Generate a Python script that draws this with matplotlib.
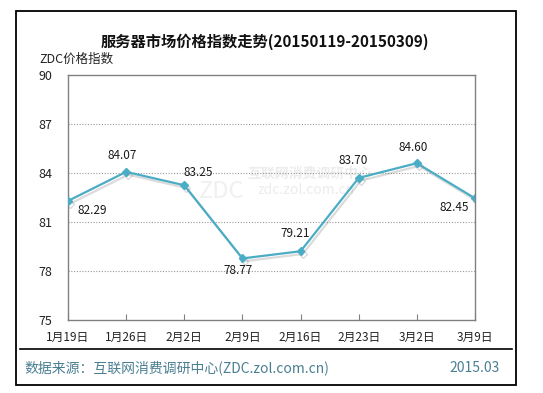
import matplotlib
matplotlib.use("Agg")
import matplotlib.pyplot as plt
import matplotlib.patheffects as pe
from matplotlib.patches import Rectangle
from matplotlib.lines import Line2D

plt.rcParams['font.family'] = ['Noto Sans CJK SC', 'DejaVu Sans']

# data
dates = ["1月19日", "1月26日", "2月2日", "2月9日", "2月16日", "2月23日", "3月2日", "3月9日"]
index = [82.29, 84.07, 83.25, 78.77, 79.21, 83.70, 84.60, 82.45]
yticks = [75, 78, 81, 84, 87, 90]
# label offsets in pixels (dx, dy)
offs = [(24, -10), (-4, 16), (14, 13), (-4, -12), (-5, 18), (-6, 17), (-4, 16), (-21, -9)]

W, H = 543, 393
fig = plt.figure(figsize=(W/100, H/100), dpi=100)
ax = fig.add_axes([68/W, (H-320)/H, (475-68)/W, (320-75)/H])

x = list(range(len(dates)))
line_c = "#4BACC6"
ax.plot(x, index, color=line_c, lw=1.6, marker="D", ms=4, zorder=3,
        path_effects=[pe.SimpleLineShadow(offset=(1.5, -2), shadow_color="#888888", alpha=0.3),
                      pe.Normal()])

for xi, v, (dx, dy) in zip(x, index, offs):
    ax.annotate(f"{v:.2f}", (xi, v), xytext=(dx, dy), textcoords="offset pixels",
                ha="center", va="center", fontsize=8.5, color="#1a1a1a", zorder=4)

ax.set_xlim(0, len(dates) - 1)
ax.set_ylim(75, 90)
ax.set_yticks(yticks)
ax.set_xticks(x)
ax.set_xticklabels(dates)
for t in yticks[1:-1]:
    ax.axhline(t, color="#999999", lw=0.8, ls=(0, (1, 1.5)), zorder=1)
ax.tick_params(axis="y", length=0, pad=11, labelsize=9, labelcolor="#222222")
ax.tick_params(axis="x", direction="in", length=4, color="#808080", pad=8,
               labelsize=8.5, labelcolor="#222222")
for s in ax.spines.values():
    s.set_color("#808080")
    s.set_linewidth(1)

# faint watermark
ax.text((222-68)/407, (320-192)/245, "ZDC", transform=ax.transAxes, fontsize=17,
        color="#f0f0f0", fontstyle="italic", ha="center", va="center", zorder=0)
ax.text((310-68)/407, (320-174)/245, "互联网消费调研中心", transform=ax.transAxes, fontsize=10,
        color="#ececec", ha="center", va="center", zorder=0, fontweight="bold")
ax.text((306-68)/407, (320-190)/245, "zdc.zol.com.cn", transform=ax.transAxes, fontsize=10,
        color="#ececec", ha="center", va="center", zorder=0)

# frame, title, footer
fig.add_artist(Rectangle((16/W, (H-385)/H), (516-16)/W, (385-11)/H, transform=fig.transFigure,
                         fill=False, edgecolor="black", lw=1.3))
fig.add_artist(Line2D([20/W, 512/W], [(H-349)/H]*2, transform=fig.transFigure,
                      color="black", lw=1.2))
fig.text(265/W, 1-42/H, "服务器市场价格指数走势(20150119-20150309)", ha="center", va="center",
         fontsize=11, fontweight="bold", color="#111111")
fig.text(39/W, 1-59/H, "ZDC价格指数", ha="left", va="center", fontsize=9, color="#222222")
foot_c = "#4a7f92"
fig.text(24/W, 1-368/H, "数据来源：互联网消费调研中心(ZDC.zol.com.cn)", ha="left", va="center",
         fontsize=10, color=foot_c)
fig.text(500/W, 1-368/H, "2015.03", ha="right", va="center", fontsize=10, color=foot_c)

fig.savefig("out.png", dpi=100)
